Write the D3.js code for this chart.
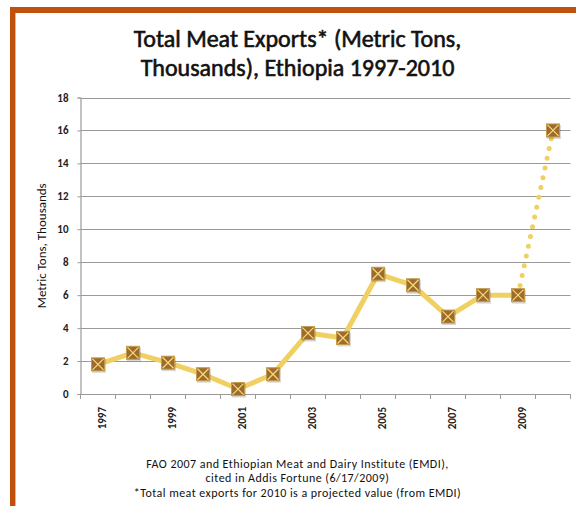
<!DOCTYPE html>
<html>
<head>
<meta charset="utf-8">
<script src="https://cdn.jsdelivr.net/npm/d3@7"></script>
<style>
  html, body { margin: 0; padding: 0; background: #fff; }
  svg { display: block; }
</style>
</head>
<body>
<svg id="chart" width="576" height="506"></svg>
<script>
// Total meat exports, Ethiopia (thousand metric tons); 2010 is a projection
const years = ["1997","1998","1999","2000","2001","2002","2003","2004","2005","2006","2007","2008","2009","2010"];
const exportsKt = [1.8, 2.5, 1.9, 1.2, 0.3, 1.2, 3.7, 3.4, 7.3, 6.6, 4.7, 6.0, 6.0, 16.0];
const projectedFrom = "2009"; // segment from this year onward is dotted
const yTicks = [0, 2, 4, 6, 8, 10, 12, 14, 16, 18];
const titleLines = ["Total Meat Exports* (Metric Tons,", "Thousands), Ethiopia 1997-2010"];
const sourceLines = [
  "FAO 2007 and Ethiopian Meat and Dairy Institute (EMDI),",
  "cited in Addis Fortune (6/17/2009)",
  "*Total meat exports for 2010 is a projected value (from EMDI)"
];

const svg = d3.select("#chart");
const font = "Carlito, Lato, 'Open Sans', 'Liberation Sans', sans-serif";

// frame
svg.append("rect").attr("x", 10).attr("y", 7).attr("width", 566).attr("height", 6).attr("fill", "#C0500A");
svg.append("rect").attr("x", 10).attr("y", 7).attr("width", 5).attr("height", 499).attr("fill", "#C0500A");
svg.append("rect").attr("x", 15).attr("y", 13).attr("width", 1).attr("height", 493).attr("fill", "#F0B080");

// title
svg.append("g").selectAll("text").data(titleLines).join("text")
  .attr("x", 297.5).attr("y", (d, i) => 47 + i * 29)
  .attr("text-anchor", "middle")
  .attr("font-family", font).attr("font-size", 24).attr("fill", "#111")
  .attr("stroke", "#111").attr("stroke-width", 0.6)
  .text(d => d);

const plotL = 80.5, plotR = 570.5, plotT = 97.5, plotB = 394;
const x = d3.scaleBand().domain(years).range([plotL, plotR]);
const y = d3.scaleLinear().domain([0, 18]).range([plotB, plotT]);

// gridlines
svg.append("g").selectAll("line").data(yTicks.filter(v => v > 0)).join("line")
  .attr("x1", plotL).attr("x2", plotR)
  .attr("y1", d => Math.round(y(d)) + 0.5).attr("y2", d => Math.round(y(d)) + 0.5)
  .attr("stroke", "#9a9a9a").attr("stroke-width", 1.2);

// y axis
const yAxis = svg.append("g").attr("transform", `translate(${plotL},0)`)
  .call(d3.axisLeft(y).tickValues(yTicks).tickSize(3).tickPadding(9));
yAxis.select(".domain").attr("stroke", "#9a9a9a").attr("stroke-width", 1.2);
yAxis.selectAll(".tick line").attr("stroke", "#9a9a9a");
yAxis.selectAll("text").attr("font-family", font).attr("font-size", 11).attr("font-weight", "bold").attr("fill", "#222");

// x axis: ticks at band boundaries, labels on odd years
const xAxisG = svg.append("g").attr("transform", `translate(0,${plotB})`);
xAxisG.append("line").attr("x1", plotL).attr("x2", plotR).attr("y1", 0.5).attr("y2", 0.5)
  .attr("stroke", "#9a9a9a").attr("stroke-width", 1.2);
const bounds = years.map(d => x(d)).concat([plotR]);
xAxisG.selectAll("line.tk").data(bounds).join("line").attr("class", "tk")
  .attr("x1", d => d).attr("x2", d => d).attr("y1", 0).attr("y2", 5)
  .attr("stroke", "#9a9a9a");
xAxisG.selectAll("text").data(years.filter((d, i) => i % 2 === 0)).join("text")
  .attr("transform", d => `translate(${x(d) + x.bandwidth() / 2 + 7.5},${13}) rotate(-90)`)
  .attr("text-anchor", "end")
  .attr("font-family", font).attr("font-size", 11).attr("font-weight", "bold").attr("fill", "#222")
  .text(d => d);

// y axis title
svg.append("text")
  .attr("transform", `translate(45.5,${(plotT + plotB) / 2}) rotate(-90)`)
  .attr("text-anchor", "middle")
  .attr("font-family", font).attr("font-size", 13).attr("fill", "#111")
  .text("Metric Tons, Thousands");

// series
const pts = years.map((d, i) => ({ year: d, v: exportsKt[i] }));
const cut = years.indexOf(projectedFrom);
const line = d3.line().x(d => x(d.year) + x.bandwidth() / 2).y(d => y(d.v));

svg.append("path").datum(pts.slice(0, cut + 1))
  .attr("d", line).attr("fill", "none")
  .attr("stroke", "#F0D062").attr("stroke-width", 5).attr("stroke-linejoin", "round");
svg.append("path").datum(pts.slice(cut))
  .attr("d", line).attr("fill", "none")
  .attr("stroke", "#F0D062").attr("stroke-width", 5)
  .attr("stroke-linecap", "round").attr("stroke-dasharray", "0 10");

// markers: brown square with light cross
const m = svg.append("g").selectAll("g").data(pts).join("g")
  .attr("transform", d => `translate(${x(d.year) + x.bandwidth() / 2},${y(d.v)})`);
m.append("rect").attr("x", -7).attr("y", -7).attr("width", 14).attr("height", 14)
  .attr("fill", "rgba(0,0,0,0.15)").attr("transform", "translate(1,1.5)");
m.append("rect").attr("x", -6.5).attr("y", -6.5).attr("width", 13).attr("height", 13)
  .attr("fill", "#9E6B2E").attr("stroke", "#C49A4A").attr("stroke-width", 1);
m.append("path").attr("d", "M-5.5,-5.5L5.5,5.5M-5.5,5.5L5.5,-5.5")
  .attr("stroke", "#F5DC7A").attr("stroke-width", 1.2);

// source note
svg.append("g").selectAll("text").data(sourceLines).join("text")
  .attr("x", 297.5).attr("y", (d, i) => 467.5 + i * 14.5)
  .attr("text-anchor", "middle")
  .attr("font-family", font).attr("font-size", 12).attr("letter-spacing", 0.45).attr("fill", "#111")
  .text(d => d);
</script>
</body>
</html>
